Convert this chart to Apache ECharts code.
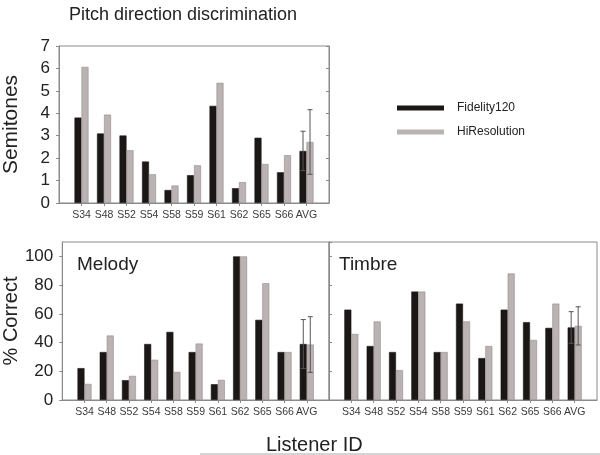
<!DOCTYPE html>
<html><head><meta charset="utf-8">
<script src="https://cdn.jsdelivr.net/npm/echarts@6/dist/echarts.min.js"></script>
<style>html,body{margin:0;padding:0;background:#fff}#c{width:600px;height:455px}</style>
</head><body><div id="c"></div>
<script>
const categories = ['S34','S48','S52','S54','S58','S59','S61','S62','S65','S66','AVG'];
const pitchFid = [3.81,3.10,3.01,1.85,0.58,1.24,4.33,0.66,2.91,1.37,2.32];
const pitchHiR = [6.07,3.94,2.35,1.28,0.78,1.68,5.36,0.93,1.74,2.13,2.72];
const pitchErrFid = 0.88, pitchErrHiR = 1.44;
const melodyFid = [22.2,33.4,13.8,39.0,47.4,33.4,11.0,100,55.8,33.4,39.0];
const melodyHiR = [11.2,44.9,16.8,28.0,19.6,39.3,14.0,100,81.3,33.4,38.6];
const melodyErrFid = 17, melodyErrHiR = 19.4;
const timbreFid = [62.9,37.6,33.4,75.5,33.4,67.1,29.2,62.9,54.2,50.2,50.5];
const timbreHiR = [46.0,54.7,20.8,75.5,33.4,54.7,37.6,88.1,41.8,67.1,51.6];
const timbreErrFid = 11, timbreErrHiR = 13.3;
const pitchTicks = [0,1,2,3,4,5,6,7];
const pctTicks = [0,20,40,60,80,100];

const BLACK = '#1c1717', GRAY = '#bbb3b3', AX = '#8a8a8a';
const pad = a => ['-', ...a, '-'];
const padCats = ['', ...categories, ''];
const avgIdx = categories.indexOf('AVG') + 1;
const BW = 7;

function xAxis(gi) {
  return {
    type: 'category', gridIndex: gi, data: padCats, boundaryGap: false,
    axisLine: {lineStyle: {color: AX, width: 1}},
    axisTick: {length: 3, lineStyle: {color: AX}, interval: (i) => i > 0 && i < padCats.length - 1},
    axisLabel: {interval: 0, fontSize: 10.5, color: '#3a3a3a', margin: 7, fontFamily: 'Liberation Sans'},
    splitLine: {show: false}
  };
}
function yAxis(gi, max, interval, opts) {
  return Object.assign({
    type: 'value', gridIndex: gi, min: 0, max: max, interval: interval,
    axisLine: {show: true, lineStyle: {color: AX}},
    axisTick: {show: true, length: 3, lineStyle: {color: AX}},
    axisLabel: {fontSize: 17, color: '#222', margin: 9, showMaxLabel: max % interval === 0, fontFamily: 'Liberation Sans'},
    splitLine: {show: false}
  }, opts || {});
}
function bars(gi, name, data, color) {
  return {
    type: 'bar', name: name, xAxisIndex: gi, yAxisIndex: gi, data: pad(data),
    barWidth: BW, barGap: '0%',
    itemStyle: {color: color, borderColor: color === BLACK ? BLACK : '#958b8b', borderWidth: 0.6},
    silent: true, animation: false
  };
}
function errBar(gi, center, err, side) {
  return {
    type: 'custom', xAxisIndex: gi, yAxisIndex: gi, silent: true, animation: false, z: 5,
    data: [[avgIdx, center - err, center + err]],
    renderItem: function (params, api) {
      const lo = api.coord([api.value(0), api.value(1)]);
      const hi = api.coord([api.value(0), api.value(2)]);
      const x = lo[0] + side * BW / 2;
      const c = 2.5;
      const st = {stroke: '#555', lineWidth: 1};
      return {type: 'group', children: [
        {type: 'line', shape: {x1: x, y1: lo[1], x2: x, y2: hi[1]}, style: st},
        {type: 'line', shape: {x1: x - c, y1: lo[1], x2: x + c, y2: lo[1]}, style: st},
        {type: 'line', shape: {x1: x - c, y1: hi[1], x2: x + c, y2: hi[1]}, style: st}
      ]};
    }
  };
}

const chart = echarts.init(document.getElementById('c'), null, {renderer: 'canvas'});
chart.setOption({
  animation: false,
  backgroundColor: '#fff',
  textStyle: {fontFamily: 'Liberation Sans'},
  title: {text: 'Pitch direction discrimination', left: 64, top: 1,
    textStyle: {fontSize: 18, fontWeight: 'normal', color: '#222', fontFamily: 'Liberation Sans'}},
  legend: {
    data: ['Fidelity120', 'HiResolution'], orient: 'vertical', left: 392, top: 97,
    itemWidth: 47, itemHeight: 5, itemGap: 12, icon: 'rect',
    itemStyle: {borderWidth: 0},
    textStyle: {fontSize: 12, color: '#222', padding: [0, 0, 0, 8], fontFamily: 'Liberation Sans'}
  },
  grid: [
    {left: 58, top: 46, width: 271, height: 157, show: true, borderColor: AX, borderWidth: 1},
    {left: 58, top: 242, width: 271, height: 158, show: true, borderColor: AX, borderWidth: 1},
    {left: 329, top: 242, width: 269, height: 158, show: true, borderColor: AX, borderWidth: 1}
  ],
  xAxis: [xAxis(0), xAxis(1), xAxis(2)],
  yAxis: [
    yAxis(0, 7, 1, {name: 'Semitones', nameLocation: 'middle', nameGap: 37, nameRotate: 90,
      nameTextStyle: {fontSize: 21, color: '#222'}}),
    yAxis(1, 110, 20, {name: '% Correct', nameLocation: 'middle', nameGap: 38, nameRotate: 90,
      nameTextStyle: {fontSize: 20, color: '#222'}}),
    yAxis(2, 110, 20, {axisLabel: {show: false}, axisTick: {show: true, inside: true, length: 3, lineStyle: {color: AX}}}),
    yAxis(0, 7, 1, {position: 'right', axisLabel: {show: false}, axisTick: {show: true, inside: true, length: 3, lineStyle: {color: AX}}})
  ],
  graphic: [
    {type: 'text', left: 77, top: 255, style: {text: 'Melody', fontSize: 19, fill: '#222', fontFamily: 'Liberation Sans'}},
    {type: 'text', left: 339, top: 255, style: {text: 'Timbre', fontSize: 19, fill: '#222', fontFamily: 'Liberation Sans'}},
    {type: 'text', left: 266, top: 435, style: {text: 'Listener ID', fontSize: 20, fill: '#222', fontFamily: 'Liberation Sans'}},
    {type: 'line', shape: {x1: 200, y1: 454, x2: 600, y2: 454}, style: {stroke: '#aaa', lineWidth: 1}}
  ],
  series: [
    bars(0, 'Fidelity120', pitchFid, BLACK), bars(0, 'HiResolution', pitchHiR, GRAY),
    bars(1, 'Fidelity120', melodyFid, BLACK), bars(1, 'HiResolution', melodyHiR, GRAY),
    bars(2, 'Fidelity120', timbreFid, BLACK), bars(2, 'HiResolution', timbreHiR, GRAY),
    errBar(0, pitchFid[10], pitchErrFid, -1), errBar(0, pitchHiR[10], pitchErrHiR, 1),
    errBar(1, melodyFid[10], melodyErrFid, -1), errBar(1, melodyHiR[10], melodyErrHiR, 1),
    errBar(2, timbreFid[10], timbreErrFid, -1), errBar(2, timbreHiR[10], timbreErrHiR, 1)
  ]
});
</script>
</body></html>
